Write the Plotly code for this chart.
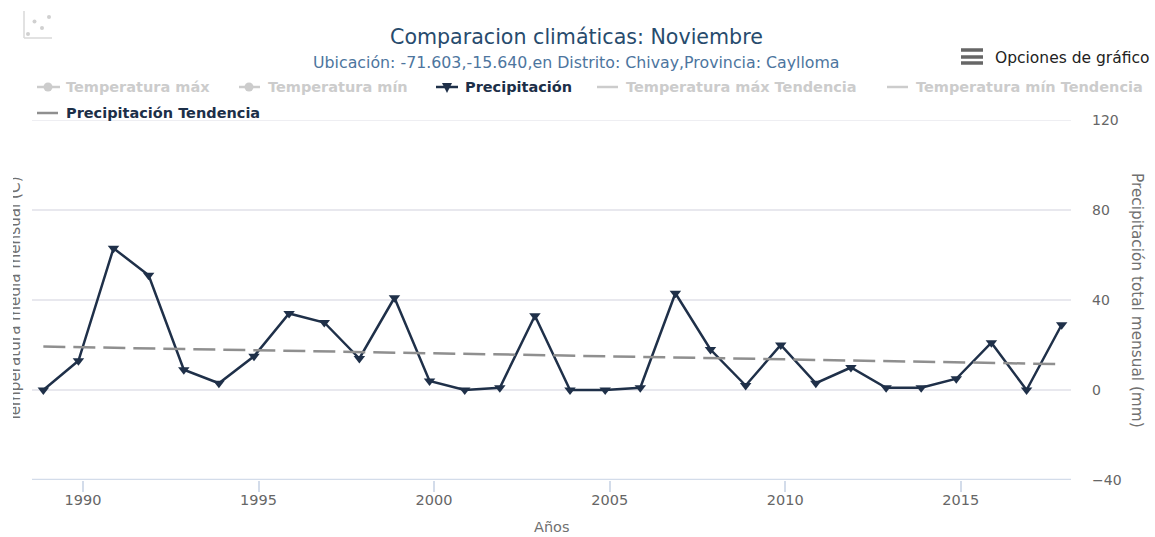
import plotly.graph_objects as go

W, H = 1155, 537
L, R, T, B = 32, 1071, 120, 480

fechas = [f"{y}-11-15" for y in range(1988, 2018)]
precipitacion = [0, 13, 63, 51, 9, 3, 15, 34, 30, 14, 41, 4, 0, 1, 33, 0, 0, 1, 43, 18, 2, 20, 3, 10, 1, 1, 5, 21, 0, 29]
tendencia_fechas = ["1988-11-15", "2017-11-15"]
tendencia = [19.3, 11.5]
titulo = "Comparacion climáticas: Noviembre"
subtitulo = "Ubicación: -71.603,-15.640,en Distrito: Chivay,Provincia: Caylloma"
y_ticks = [-40, 0, 40, 80, 120]
leyenda = [
    ("Temperatura máx", 64, 87, "#cccccc"),
    ("Temperatura mín", 266, 87, "#cccccc"),
    ("Precipitación", 463, 87, "#1c2f48"),
    ("Temperatura máx Tendencia", 624, 87, "#cccccc"),
    ("Temperatura mín Tendencia", 914, 87, "#cccccc"),
    ("Precipitación Tendencia", 64, 113, "#1c2f48"),
]

FONT = "DejaVu Sans"
DARK = "#1f3049"
AXIS = "#d3dcea"

def px(x):
    return (x - L) / (R - L)

def py(y):
    return (B - y) / (B - T)

fig = go.Figure()
fig.add_trace(go.Scatter(x=fechas, y=precipitacion, mode="lines+markers", name="Precipitación",
                         line=dict(color=DARK, width=2.5),
                         marker=dict(symbol="triangle-down", size=10, color=DARK),
                         cliponaxis=False))
fig.add_trace(go.Scatter(x=tendencia_fechas, y=tendencia, mode="lines", name="Precipitación Tendencia",
                         line=dict(color="#8f8f8f", width=2.5, dash="22px,8px")))

ann = []
def text(s, x, y, size, color, bold=False, anchor="left", angle=0):
    ann.append(dict(text=f"<b>{s}</b>" if bold else s, x=px(x), y=py(y), xref="paper", yref="paper",
                    xanchor=anchor, yanchor="middle", showarrow=False, textangle=angle,
                    font=dict(family=FONT, size=size, color=color)))

text(titulo, 576, 37, 20.6, "#274b6d", anchor="center")
text(subtitulo, 576, 63, 15.8, "#4d759e", anchor="center")
text("Opciones de gráfico", 993, 58, 15.5, "#222222")
for s, x, y, c in leyenda:
    text(s, x, y, 14.5, c, bold=True)
text("Años", 552, 527, 14.5, "#707070", anchor="center")
text("Precipitación total mensual (mm)", 1137, 300, 15.3, "#707070", anchor="center", angle=90)
text("Temperatura media mensual (C)", 15, 300, 15.2, "#707070", anchor="center", angle=-90)
# White mask that clips the left axis title as in the reference
ann.append(dict(text=" ", x=px(0), y=py(300), xref="paper", yref="paper", xanchor="left", yanchor="middle",
                showarrow=False, width=13, height=280, bgcolor="#ffffff", borderpad=0, borderwidth=0))

shapes = []
def seg(x0, y0, x1, y1, color, width, layer="above"):
    shapes.append(dict(type="line", xref="paper", yref="paper", x0=px(x0), y0=py(y0), x1=px(x1), y1=py(y1),
                       line=dict(color=color, width=width), layer=layer))
def dot(cx, cy, r, color):
    shapes.append(dict(type="circle", xref="paper", yref="paper", x0=px(cx - r), x1=px(cx + r),
                       y0=py(cy - r), y1=py(cy + r), fillcolor=color, line=dict(width=0), layer="above"))
def tri(cx, cy, r, color):
    x0, x1 = px(cx - r), px(cx + r)
    y0, y1 = py(cy - r), py(cy + r)
    shapes.append(dict(type="path", xref="paper", yref="paper",
                       path=f"M {x0} {y0} L {x1} {y0} L {px(cx)} {y1} Z",
                       fillcolor=color, line=dict(width=0), layer="above"))

# top gridline and bottom axis line, at the ends of the value axis
shapes.append(dict(type="line", xref="paper", yref="y", x0=0, x1=1, y0=y_ticks[-1], y1=y_ticks[-1],
                   line=dict(color="#e8e8ee", width=1.5), layer="below"))
shapes.append(dict(type="line", xref="paper", yref="y", x0=0, x1=1, y0=y_ticks[0], y1=y_ticks[0],
                   line=dict(color=AXIS, width=2.5), layer="below"))

# legend glyphs
seg(37, 87, 60, 87, "#cccccc", 2.5); dot(48, 87, 4.5, "#cccccc")
seg(239, 87, 260, 87, "#cccccc", 2.5); dot(249, 87, 4.5, "#cccccc")
seg(436, 87, 458, 87, DARK, 2.5); tri(447, 88, 5, DARK)
seg(597, 87, 618, 87, "#cccccc", 2.5)
seg(887, 87, 908, 87, "#cccccc", 2.5)
seg(37, 113, 58, 113, "#8f8f8f", 2.5)
# menu icon
for yy in (50, 57, 63):
    seg(961, yy, 983, yy, "#666666", 3.5)
# scatter icon, top left
seg(24, 11, 24, 38, "#d8d8d8", 1.5)
seg(24, 38, 52, 38, "#d8d8d8", 1.5)
for cx, cy in ((28, 34), (34.5, 21.5), (42, 28), (49, 17)):
    dot(cx, cy, 2, "#d0d0d0")

fig.update_layout(
    width=W, height=H, autosize=False,
    margin=dict(l=L, r=W - R, t=T, b=H - B, pad=0),
    paper_bgcolor="white", plot_bgcolor="white", showlegend=False,
    annotations=ann, shapes=shapes,
    font=dict(family=FONT, color="#666666"),
    xaxis=dict(type="date", range=["1988-07-20", "2018-02-20"], tick0="1990-01-01", dtick="M60",
               tickformat="%Y", showgrid=False, zeroline=False, showline=False,
               ticks="outside", ticklen=11, tickcolor=AXIS, tickwidth=1.5, ticklabelstandoff=-4,
               tickfont=dict(family=FONT, size=14.5, color="#666666")),
    yaxis=dict(side="right", range=[-40, 120], tickvals=y_ticks, showgrid=True, gridcolor="#e8e8ee", gridwidth=1.5,
               zeroline=False, showline=False, ticks="", ticklabelstandoff=20,
               tickfont=dict(family=FONT, size=14, color="#666666")),
)

fig.write_html("out.html", post_script="document.body.style.margin='0';document.documentElement.style.overflow='hidden';",
               config=dict(displayModeBar=False))
